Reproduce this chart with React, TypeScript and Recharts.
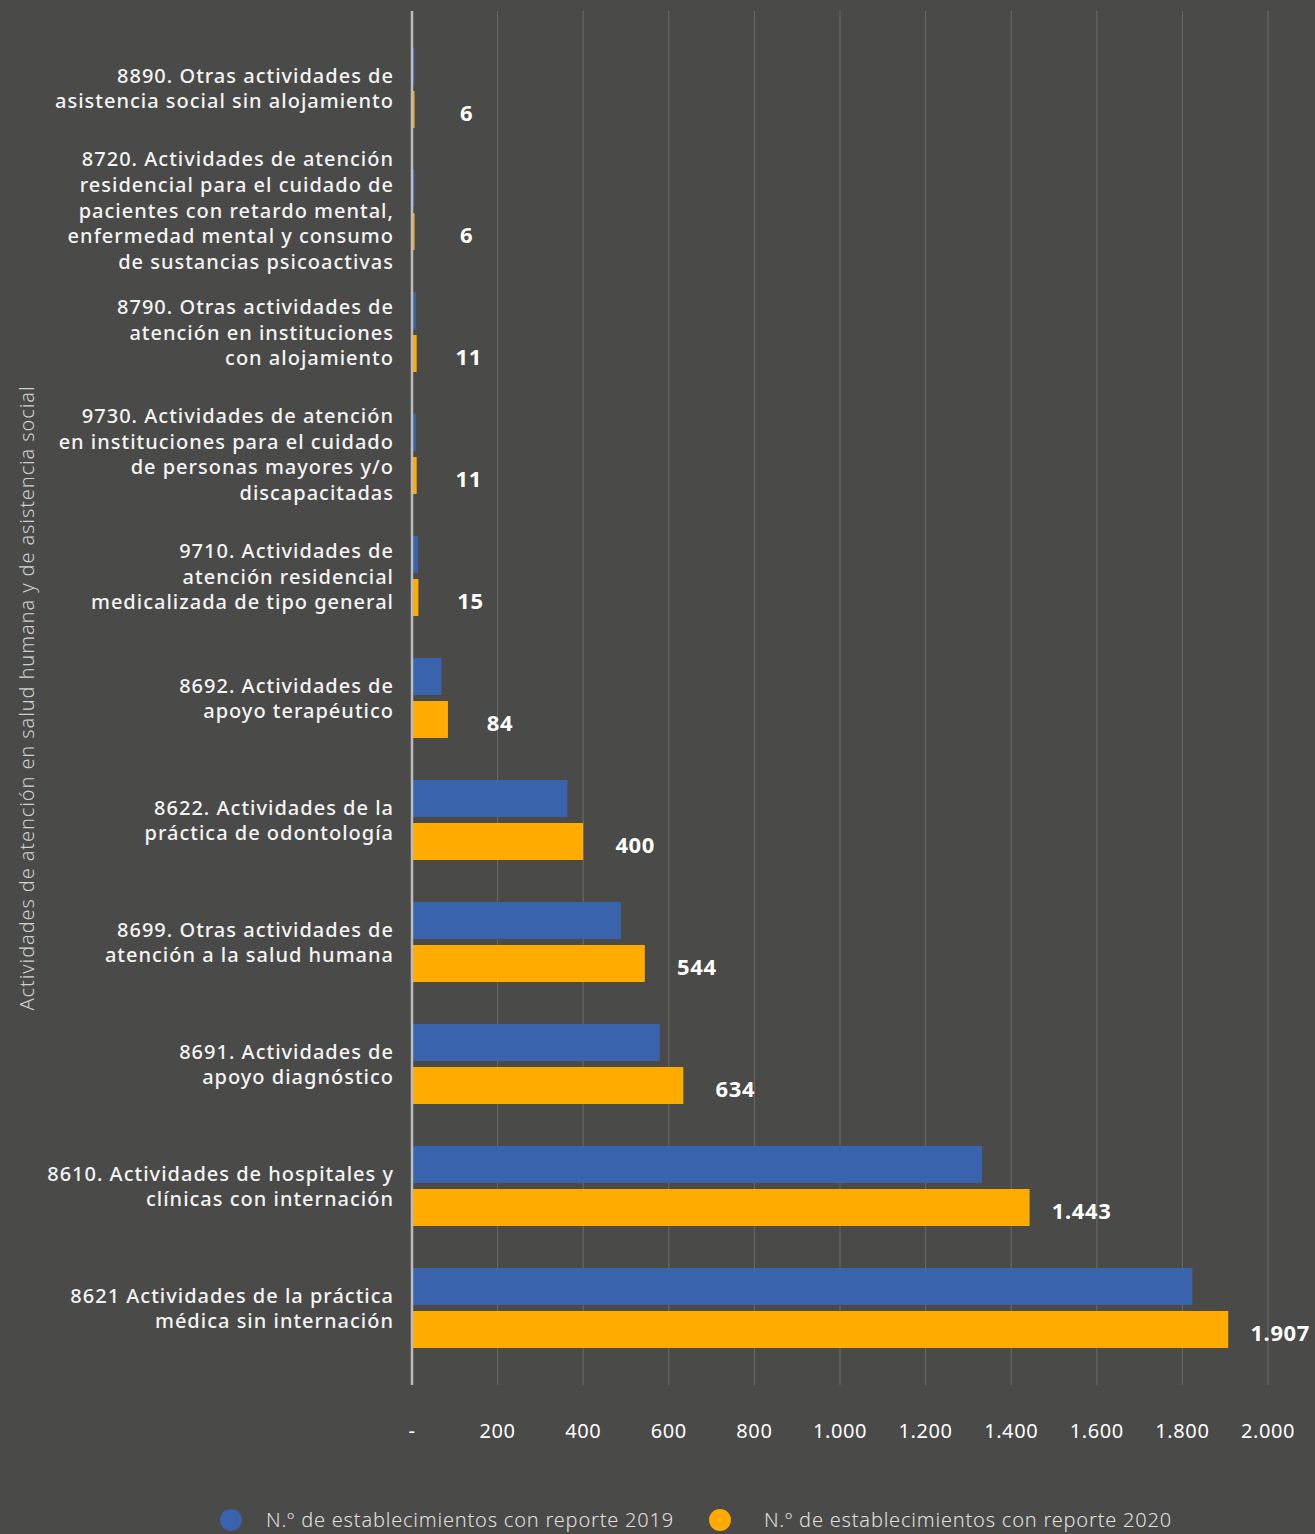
import React from "react";
import {
  BarChart,
  Bar,
  XAxis,
  YAxis,
  CartesianGrid,
  LabelList,
} from "recharts";

// categories, top to bottom
const categories = [
  "8890. Otras actividades de\nasistencia social sin alojamiento",
  "8720. Actividades de atención\nresidencial para el cuidado de\npacientes con retardo mental,\nenfermedad mental y consumo\nde sustancias psicoactivas",
  "8790. Otras actividades de\natención en instituciones\ncon alojamiento",
  "9730. Actividades de atención\nen instituciones para el cuidado\nde personas mayores y/o\ndiscapacitadas",
  "9710. Actividades de\natención residencial\nmedicalizada de tipo general",
  "8692. Actividades de\napoyo terapéutico",
  "8622. Actividades de la\npráctica de odontología",
  "8699. Otras actividades de\natención a la salud humana",
  "8691. Actividades de\napoyo diagnóstico",
  "8610. Actividades de hospitales y\nclínicas con internación",
  "8621 Actividades de la práctica\nmédica sin internación",
];

const values2019 = [6, 6, 9, 9, 14, 69, 363, 488, 579, 1332, 1823];
const values2020 = [6, 6, 11, 11, 15, 84, 400, 544, 634, 1443, 1907];

const xTicks = [0, 200, 400, 600, 800, 1000, 1200, 1400, 1600, 1800, 2000];

const SERIES_2019 = "N.º de establecimientos con reporte 2019";
const SERIES_2020 = "N.º de establecimientos con reporte 2020";
const AXIS_TITLE = "Actividades de atención en salud humana y de asistencia social";

const BLUE = "#3a63ad";
const ORANGE = "#ffab00";
const BG = "#4a4a48";
const FONT = "'Noto Sans', 'Open Sans', sans-serif";

const data = categories.map((name, i) => ({
  name,
  v2019: values2019[i],
  v2020: values2020[i],
}));

// 1907 -> "1.907"
const fmt = (v: number) => String(v).replace(/\B(?=(\d{3})+(?!\d))/g, ".");

const CategoryTick = ({ x, y, payload }: any) => {
  const lines = String(payload.value).split("\n");
  const lh = 25.8;
  const start = y - ((lines.length - 1) * lh) / 2;
  return (
    <text x={x - 10} textAnchor="end" fill="#f4f4f4" fontSize={20} fontFamily={FONT} fontWeight={500} letterSpacing={1}>
      {lines.map((l, i) => (
        <tspan key={i} x={x - 10} y={start + i * lh} dominantBaseline="central">
          {l}
        </tspan>
      ))}
    </text>
  );
};

const ValueTick = ({ x, payload }: any) => (
  <text x={x} y={1430} textAnchor="middle" dominantBaseline="central" fill="#ffffff" fontSize={20} letterSpacing={0.6} fontFamily={FONT}>
    {payload.value === 0 ? "-" : fmt(payload.value)}
  </text>
);

const BarValue = ({ x, y, width, height, value }: any) => (
  <text
    x={x + width + 52}
    y={y + height / 2 + 2}
    textAnchor="middle"
    dominantBaseline="central"
    fill="#ffffff"
    fontSize={22}
    fontWeight={700}
    letterSpacing={0.6}
    fontFamily={FONT}
  >
    {fmt(value)}
  </text>
);

const AxisTitle = ({ viewBox }: any) => {
  const cx = 26;
  const cy = viewBox.y + viewBox.height / 2;
  return (
    <text
      x={cx}
      y={cy}
      transform={`rotate(-90 ${cx} ${cy})`}
      textAnchor="middle"
      dominantBaseline="central"
      fill="#d0d0d0"
      fontSize={20}
      fontWeight={300}
      letterSpacing={0.9}
      fontFamily={FONT}
    >
      {AXIS_TITLE}
    </text>
  );
};

const LegendItem = ({ color, label, space }: { color: string; label: string; space: number }) => (
  <div style={{ display: "flex", alignItems: "center" }}>
    <span style={{ width: 22, height: 22, borderRadius: 11, background: color, marginRight: space }} />
    <span style={{ color: "#e0e0e0", fontSize: 20, fontWeight: 300, letterSpacing: 0.8 }}>{label}</span>
  </div>
);

export default function App() {
  return (
    <div style={{ position: "absolute", left: 0, top: 0, width: 1315, height: 1534, background: BG, fontFamily: FONT }}>
      <BarChart
        width={1315}
        height={1534}
        data={data}
        layout="vertical"
        margin={{ top: 11, right: 47, bottom: 0, left: 0 }}
        barSize={37}
        barGap={6}
      >
        <CartesianGrid vertical horizontal={false} stroke="#6c6c6a" strokeWidth={1} />
        <XAxis
          type="number"
          domain={[0, 2000]}
          ticks={xTicks}
          tick={<ValueTick />}
          axisLine={false}
          tickLine={false}
          height={149}
          interval={0}
        />
        <YAxis
          type="category"
          dataKey="name"
          width={412}
          tick={<CategoryTick />}
          tickLine={false}
          axisLine={{ stroke: "#bcbcbc", strokeWidth: 2.5 }}
          padding={{ top: 16, bottom: 16 }}
          interval={0}
          label={<AxisTitle />}
        />
        <Bar dataKey="v2019" name={SERIES_2019} fill={BLUE} isAnimationActive={false} />
        <Bar dataKey="v2020" name={SERIES_2020} fill={ORANGE} isAnimationActive={false}>
          <LabelList dataKey="v2020" content={<BarValue />} />
        </Bar>
      </BarChart>
      <div style={{ position: "absolute", top: 1506, left: 220, display: "flex", gap: 35 }}>
        <LegendItem color={BLUE} label={SERIES_2019} space={24} />
        <LegendItem color={ORANGE} label={SERIES_2020} space={33} />
      </div>
    </div>
  );
}
